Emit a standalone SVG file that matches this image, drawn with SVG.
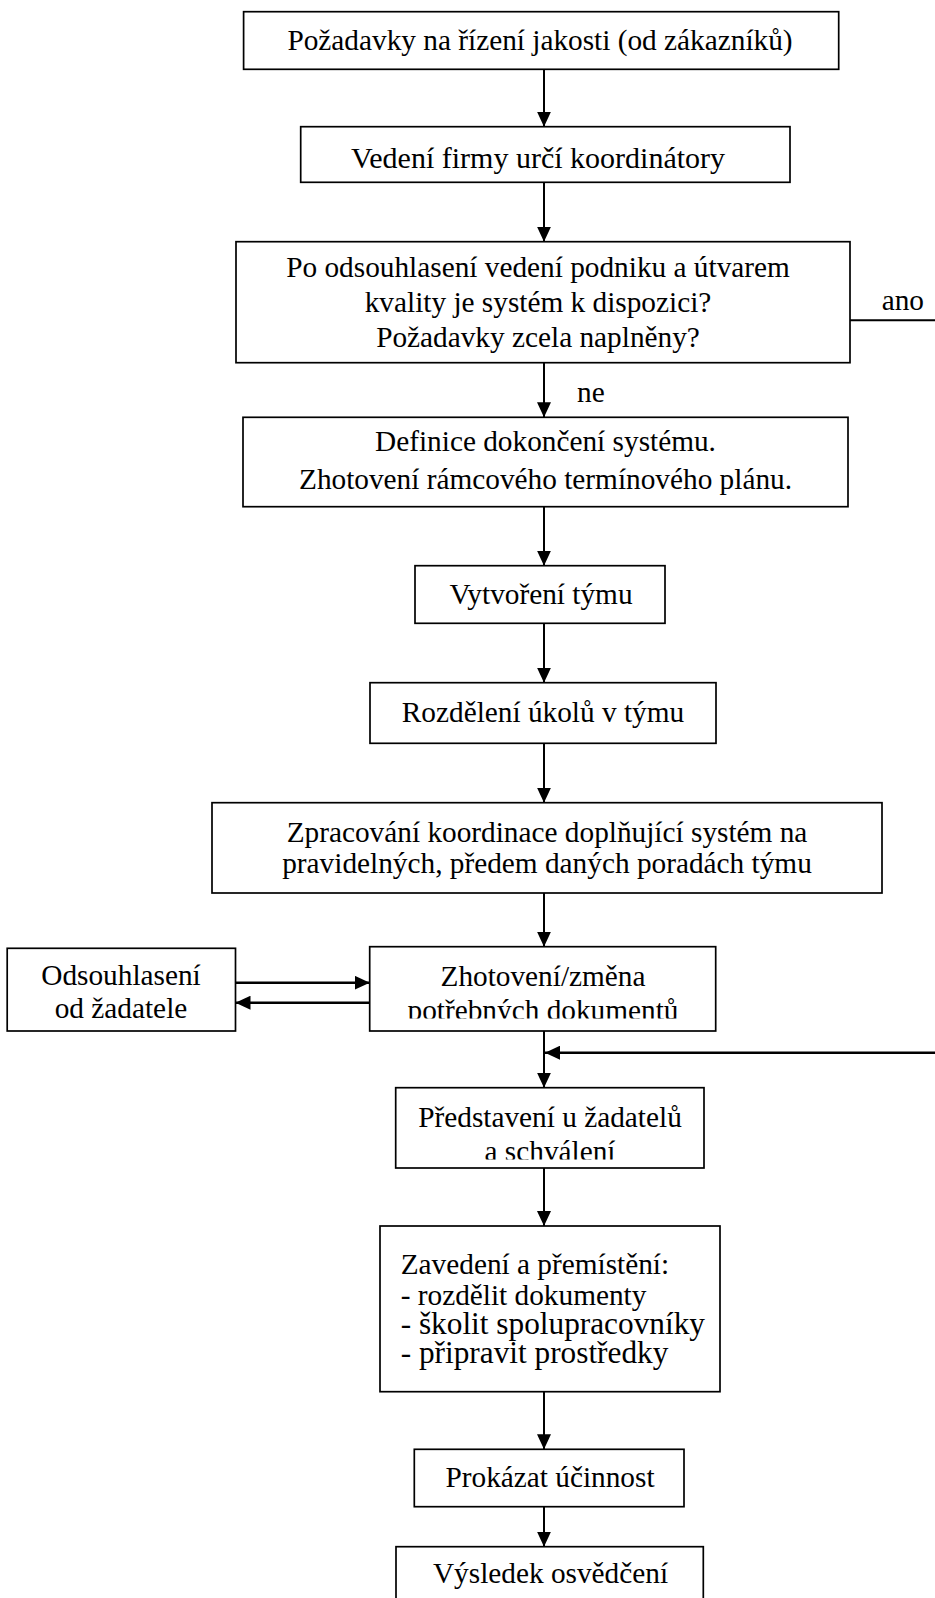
<svg xmlns="http://www.w3.org/2000/svg" width="935" height="1598" viewBox="0 0 935 1598">
<style>
.box{fill:#fff;stroke:#000;stroke-width:1.7}
.t{font-size:29.3px;fill:#000}
.c{text-anchor:middle}
.big{font-size:31.3px}
.ln{fill:none;stroke:#000;stroke-width:2}
.lt{fill:none;stroke:#000;stroke-width:2.6}
</style>
<defs>
<marker id="ah" markerUnits="userSpaceOnUse" markerWidth="15" markerHeight="14" viewBox="0 0 15 14" refX="15" refY="7" orient="auto">
<path d="M0,0 L15,7 L0,14 Z" fill="#000"/>
</marker>
<clipPath id="clip8"><rect x="369" y="946" width="347" height="72.5"/></clipPath>
<clipPath id="clip9"><rect x="395" y="1087" width="309" height="72.5"/></clipPath>
</defs>
<g font-family="Liberation Serif, Times New Roman, DejaVu Serif, serif">
<g id="connectors">
<path class="ln" d="M544 69.3 V126.7" marker-end="url(#ah)"/>
<path class="ln" d="M544 182.3 V241.7" marker-end="url(#ah)"/>
<path class="ln" d="M544 362.7 V417.3" marker-end="url(#ah)"/>
<path class="ln" d="M544 506.7 V565.7" marker-end="url(#ah)"/>
<path class="ln" d="M544 623.3 V682.7" marker-end="url(#ah)"/>
<path class="ln" d="M544 743.3 V802.7" marker-end="url(#ah)"/>
<path class="ln" d="M544 893 V946.7" marker-end="url(#ah)"/>
<path class="ln" d="M544 1031 V1087.7" marker-end="url(#ah)"/>
<path class="lt" d="M235.5 982.7 H369.7" marker-end="url(#ah)"/>
<path class="lt" d="M369.7 1002.7 H235.5" marker-end="url(#ah)"/>
<path class="lt" d="M935 1052.7 H545" marker-end="url(#ah)"/>
<path class="ln" d="M850 320.3 H935"/>
<path class="ln" d="M544 1168 V1226" marker-end="url(#ah)"/>
<path class="ln" d="M544 1391.7 V1449.3" marker-end="url(#ah)"/>
<path class="ln" d="M544 1506.7 V1546.7" marker-end="url(#ah)"/>
<text class="t" x="881.7" y="310">ano</text>
<text class="t" x="577" y="401.7">ne</text>
</g>
<g id="n1"><rect class="box" x="243.6" y="11.7" width="595.1" height="57.6"/>
<text class="t c" x="540" y="50">Požadavky na řízení jakosti (od zákazníků)</text></g>
<g id="n2"><rect class="box" x="300.7" y="126.7" width="489.3" height="55.6"/>
<text class="t c" x="538" y="168" style="font-size:30px">Vedení firmy určí koordinátory</text></g>
<g id="n3"><rect class="box" x="236" y="241.7" width="614" height="121"/>
<text class="t c" x="538" y="277">Po odsouhlasení vedení podniku a útvarem</text>
<text class="t c" x="538" y="312">kvality je systém k dispozici?</text>
<text class="t c" x="538" y="347">Požadavky zcela naplněny?</text></g>
<g id="n4"><rect class="box" x="243" y="417.3" width="605" height="89.4"/>
<text class="t c" x="545.5" y="451">Definice dokončení systému.</text>
<text class="t c" x="545.5" y="489">Zhotovení rámcového termínového plánu.</text></g>
<g id="n5"><rect class="box" x="415" y="565.7" width="250" height="57.6"/>
<text class="t c" x="541" y="603.5">Vytvoření týmu</text></g>
<g id="n6"><rect class="box" x="370" y="682.7" width="346" height="60.6"/>
<text class="t c" x="543" y="722">Rozdělení úkolů v týmu</text></g>
<g id="n7"><rect class="box" x="212" y="802.7" width="670" height="90.3"/>
<text class="t c" x="547" y="842">Zpracování koordinace doplňující systém na</text>
<text class="t c" x="547" y="873">pravidelných, předem daných poradách týmu</text></g>
<g id="nL"><rect class="box" x="7.2" y="948.3" width="228.3" height="82.7"/>
<text class="t c" x="121" y="985">Odsouhlasení</text>
<text class="t c" x="121" y="1017.5">od žadatele</text></g>
<g id="n8"><rect class="box" x="369.7" y="946.7" width="346" height="84.3"/>
<g clip-path="url(#clip8)">
<text class="t c" x="543" y="986">Zhotovení/změna</text>
<text class="t c" x="543" y="1019.5">potřebných dokumentů</text></g></g>
<g id="n9"><rect class="box" x="395.7" y="1087.7" width="308.3" height="80.3"/>
<g clip-path="url(#clip9)">
<text class="t c" x="550" y="1127.3">Představení u žadatelů</text>
<text class="t c" x="550" y="1161">a schválení</text></g></g>
<g id="n10"><rect class="box" x="380" y="1226" width="340" height="165.7"/>
<text class="t" x="400.7" y="1274">Zavedení a přemístění:</text>
<text class="t" x="400.7" y="1304.5">- rozdělit dokumenty</text>
<text class="t big" x="400.7" y="1333.5">- školit spolupracovníky</text>
<text class="t big" x="400.7" y="1363">- připravit prostředky</text></g>
<g id="n11"><rect class="box" x="414.3" y="1449.3" width="269.7" height="57.4"/>
<text class="t c" x="550" y="1487">Prokázat účinnost</text></g>
<g id="n12"><rect class="box" x="396" y="1546.7" width="307.3" height="60"/>
<text class="t c" x="550.5" y="1583.3">Výsledek osvědčení</text></g>
</g>
</svg>
